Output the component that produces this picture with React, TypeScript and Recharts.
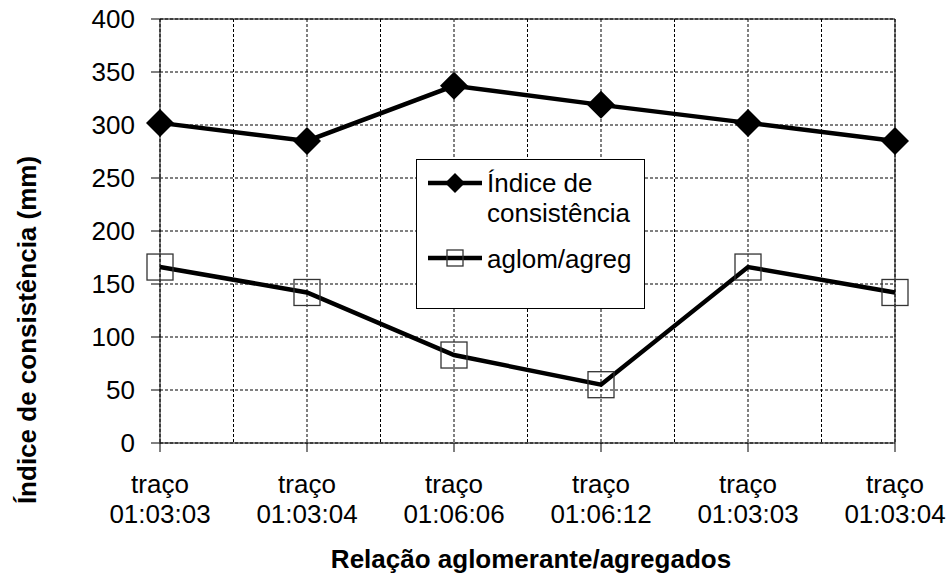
import { LineChart, Line, XAxis, YAxis, CartesianGrid, Legend, ReferenceLine, Label } from "recharts";

const categories = ["01:03:03", "01:03:04", "01:06:06", "01:06:12", "01:03:03", "01:03:04"];
const indiceValues = [302, 285, 337, 319, 302, 285];
const aglomValues = [166, 142, 83, 55, 166, 142];
const yTicks = [0, 50, 100, 150, 200, 250, 300, 350, 400];
const xGridTicks = [0, 0.5, 1, 1.5, 2, 2.5, 3, 3.5, 4, 4.5, 5];

const FONT = "Arial, 'Liberation Sans', sans-serif";

const chartData = categories.map((c, i) => ({
  x: i,
  label: c,
  indice: indiceValues[i],
  aglom: aglomValues[i],
}));

function Diamond(props: any) {
  const { cx, cy } = props;
  if (cx == null || cy == null) return null;
  const r = 14;
  return (
    <polygon
      key={`dia-${props.index}`}
      points={`${cx},${cy - r} ${cx + r},${cy} ${cx},${cy + r} ${cx - r},${cy}`}
      fill="#000"
    />
  );
}

function Square(props: any) {
  const { cx, cy } = props;
  if (cx == null || cy == null) return null;
  const s = 13;
  return (
    <rect
      key={`sq-${props.index}`}
      x={cx - s}
      y={cy - s}
      width={s * 2}
      height={s * 2}
      fill="none"
      stroke="#333"
      strokeWidth={1.3}
    />
  );
}

function XTick(props: any) {
  const { x, y, payload } = props;
  const v = payload.value;
  if (!Number.isInteger(v)) return <g />;
  return (
    <g>
      <line x1={x} y1={y} x2={x} y2={y + 9} stroke="#000" strokeWidth={1} />
      <text x={x} y={y + 50} textAnchor="middle" fontSize={26} fontFamily={FONT} fill="#000">
        traço
      </text>
      <text x={x} y={y + 80} textAnchor="middle" fontSize={26} fontFamily={FONT} fill="#000">
        {categories[v]}
      </text>
    </g>
  );
}

function LegendBox() {
  const textStyle = { fontSize: 26, fontFamily: FONT, fill: "#000" };
  return (
    <svg width={229} height={150} style={{ display: "block" }}>
      <rect x={0.5} y={0.5} width={228} height={149} fill="#fff" stroke="#000" strokeWidth={1} />
      <line x1={12} y1={24} x2={66} y2={24} stroke="#000" strokeWidth={4.5} />
      <polygon points="39,14 49,24 39,34 29,24" fill="#000" />
      <text x={71} y={33} {...textStyle}>Índice de</text>
      <text x={71} y={63} {...textStyle}>consistência</text>
      <line x1={12} y1={99} x2={66} y2={99} stroke="#000" strokeWidth={4.5} />
      <rect x={31} y={91} width={16} height={16} fill="none" stroke="#333" strokeWidth={1.3} />
      <text x={71} y={109} {...textStyle}>aglom/agreg</text>
    </svg>
  );
}

export default function App() {
  return (
    <div style={{ position: "absolute", left: 0, top: 0, background: "#fff" }}>
      <LineChart
        width={951}
        height={574}
        data={chartData}
        margin={{ top: 19, right: 56, left: 0, bottom: 0 }}
      >
        <CartesianGrid stroke="#000" strokeDasharray="3 2" strokeWidth={1} />
        <XAxis
          dataKey="x"
          type="number"
          domain={[0, 5]}
          ticks={xGridTicks}
          interval={0}
          height={131}
          tickLine={false}
          tickSize={0}
          tickMargin={0}
          axisLine={{ stroke: "#000", strokeWidth: 1 }}
          tick={<XTick />}
        >
          <Label
            content={() => (
              <text
                x={531}
                y={568}
                textAnchor="middle"
                fontSize={26}
                fontWeight="bold"
                fontFamily={FONT}
                fill="#000"
              >
                Relação aglomerante/agregados
              </text>
            )}
          />
        </XAxis>
        <YAxis
          type="number"
          domain={[0, 400]}
          ticks={yTicks}
          interval={0}
          width={160}
          tickSize={9}
          tickMargin={16}
          tickLine={{ stroke: "#000", strokeWidth: 1 }}
          axisLine={{ stroke: "#000", strokeWidth: 1 }}
          tick={{ fontSize: 26, fontFamily: FONT, fill: "#000" }}
        >
          <Label
            content={() => (
              <text
                x={27}
                y={330}
                transform="rotate(-90, 27, 330)"
                textAnchor="middle"
                dominantBaseline="central"
                fontSize={26}
                fontWeight="bold"
                fontFamily={FONT}
                fill="#000"
              >
                Índice de consistência (mm)
              </text>
            )}
          />
        </YAxis>
        <ReferenceLine y={400} stroke="#000" strokeWidth={1} />
        <ReferenceLine x={5} stroke="#000" strokeWidth={1} />
        <Line
          type="linear"
          dataKey="indice"
          stroke="#000"
          strokeWidth={4.5}
          dot={Diamond}
          activeDot={false}
          isAnimationActive={false}
        />
        <Line
          type="linear"
          dataKey="aglom"
          stroke="#000"
          strokeWidth={4.5}
          dot={Square}
          activeDot={false}
          isAnimationActive={false}
        />
        <Legend
          layout="horizontal"
          align="center"
          verticalAlign="middle"
          content={() => <LegendBox />}
          wrapperStyle={{ position: "absolute", left: 416, top: 159, width: 229, height: 150 }}
        />
      </LineChart>
    </div>
  );
}
